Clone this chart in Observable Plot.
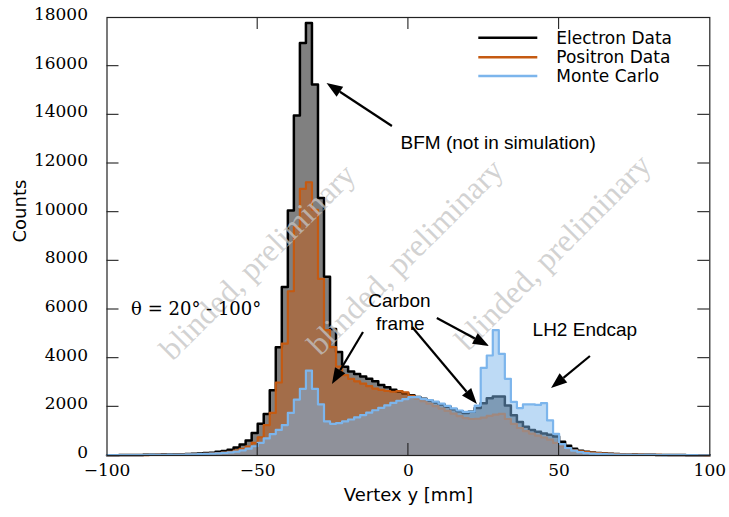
<!DOCTYPE html>
<html><head><meta charset="utf-8">
<script src="https://cdn.jsdelivr.net/npm/d3@7"></script>
<script src="https://cdn.jsdelivr.net/npm/@observablehq/plot@0.6"></script>
<style>body{margin:0;background:#fff}</style>
</head><body><div id="chart"></div>
<script>
// ---- data ----
const binStart = d3.range(-100, 100, 2); // 2 mm bins
const binEnd = 100;
const electron = [15,15,18,20,22,25,28,30,34,38, 42,48,55,62,72,84,98,115,150,185, 240,330,450,620,920,1300,1710,2680,4450,6920, 10070,13970,16950,17770,15250,10580,7350,5200,4250,3650, 3450,3350,3250,3150,3050,2900,2800,2700,2620,2550, 2480,2400,2330,2260,2180,2100,2000,1900,1820,1750, 1800,1950,2150,2350,2420,2420,2050,1650,1380,1180, 1050,980,900,850,780,560,400,280,200,150, 120,100,85,70,60,50,45,40,35,30, 28,25,22,20,18,16,15,14,12,10];
const positron = [10,11,12,14,15,17,19,21,24,27, 30,34,39,45,52,60,70,82,98,120, 150,200,270,370,520,750,1250,1750,3000,4600, 6750,9400,10960,11230,10100,7260,5150,4450,3650,3300, 3150,3050,2950,2850,2750,2700,2650,2620,2650,2600, 2450,2330,2230,2130,2030,1930,1830,1720,1620,1540, 1500,1510,1560,1630,1680,1710,1500,1300,1130,1000, 900,820,740,650,520,380,280,210,170,140, 115,95,80,68,58,50,44,38,33,29, 26,23,20,18,16,14,13,12,10,9];
const monteCarlo = [12,13,14,15,17,19,21,23,26,29, 32,36,40,45,51,58,66,76,88,105, 128,160,210,280,380,520,700,880,1050,1250, 1750,2300,2740,3490,2740,2100,1400,1300,1330,1400, 1480,1570,1660,1760,1860,1960,2060,2160,2250,2320, 2400,2400,2330,2280,2210,2130,2040,1940,1850,1790, 1800,2050,3600,4110,5150,4180,3150,2200,1950,2100, 2100,2080,2150,1440,890,470,300,200,140,100, 80,65,55,48,42,38,34,30,27,24, 22,20,18,16,15,14,13,12,11,10];
const seriesNames = ["Electron Data", "Positron Data", "Monte Carlo"];
const seriesColors = ["#000000", "#c55a11", "#7cb5ec"];
const xTicks = [-100, -50, 0, 50, 100];
const yTicks = [0, 2000, 4000, 6000, 8000, 10000, 12000, 14000, 16000, 18000];
const watermarkText = "blinded, preliminary";
const watermarkX = [-50, -1, 48];
const watermarkY = [7950, 8150, 8350];
// annotation labels (data coordinates)
const startLabels = [
  {text: "BFM (not in simulation)", x: -2.6, y: 12860},
  {text: "LH2 Endcap", x: 41.2, y: 5180}
];
const middleLabels = [
  {text: "Carbon", x: -3, y: 6370},
  {text: "frame", x: -2.7, y: 5390}
];
const arrows = [
  {x1: -5.3, y1: 13520, x2: -27.0, y2: 15290},
  {x1: -14.9, y1: 5055, x2: -25.2, y2: 2918},
  {x1: 1.4, y1: 5260, x2: 22.9, y2: 2096},
  {x1: 9.6, y1: 5630, x2: 26.9, y2: 4479},
  {x1: 60.4, y1: 4068, x2: 47.5, y2: 2753}
];

// ---- helpers ----
function steps(values) {
  const pts = binStart.map((x, i) => ({x, y: values[i]}));
  pts.push({x: binEnd, y: values[values.length - 1]});
  return pts;
}
const eS = steps(electron), pS = steps(positron), mS = steps(monteCarlo);

const W = 729, H = 517, mL = 106.5, mR = 19.7, mT = 17, mB = 62;
const fbX = d3.scaleLinear([-100, 100], [mL, W - mR]);
const fbY = d3.scaleLinear([0, 18000], [H - mB, mT]);

function custom(draw) {
  return (index, scales, values, dims) => {
    const g = d3.create("svg:g");
    const sx = (scales && scales.x) || fbX;
    const sy = (scales && scales.y) || fbY;
    draw(g, sx, sy, dims || {width: W, height: H, marginLeft: mL, marginRight: mR, marginTop: mT, marginBottom: mB});
    return g.node();
  };
}

const tickMarks = custom((g, sx, sy, d) => {
  const L = d.marginLeft, R = d.width - d.marginRight, T = d.marginTop, B = d.height - d.marginBottom;
  const t = 12;
  yTicks.slice(1, -1).forEach(v => {
    const y = sy(v);
    g.append("line").attr("x1", L).attr("x2", L + t).attr("y1", y).attr("y2", y);
    g.append("line").attr("x1", R - t).attr("x2", R).attr("y1", y).attr("y2", y);
  });
  xTicks.slice(1, -1).forEach(v => {
    const x = sx(v);
    g.append("line").attr("x1", x).attr("x2", x).attr("y1", B).attr("y2", B - t);
    g.append("line").attr("x1", x).attr("x2", x).attr("y1", T).attr("y2", T + t);
  });
  g.attr("stroke", "#222").attr("stroke-width", 1.1);
});

const arrowMark = custom((g, sx, sy) => {
  arrows.forEach(a => {
    const x1 = sx(a.x1), y1 = sy(a.y1), x2 = sx(a.x2), y2 = sy(a.y2);
    const ang = Math.atan2(y2 - y1, x2 - x1);
    const hl = 16, hw = 6;
    const bx = x2 - hl * Math.cos(ang), by = y2 - hl * Math.sin(ang);
    g.append("line").attr("x1", x1).attr("y1", y1).attr("x2", bx).attr("y2", by)
      .attr("stroke", "#000").attr("stroke-width", 2.2);
    const px = -Math.sin(ang) * hw, py = Math.cos(ang) * hw;
    g.append("path").attr("d", `M${x2},${y2}L${bx + px},${by + py}L${bx - px},${by - py}Z`).attr("fill", "#000");
  });
});

const legendMark = custom((g, sx, sy, d) => {
  const R = d.width - d.marginRight, T = d.marginTop;
  const rows = [20.7, 40.3, 59];
  seriesNames.forEach((name, i) => {
    const y = T + rows[i];
    g.append("line").attr("x1", R - 231).attr("x2", R - 172).attr("y1", y).attr("y2", y)
      .attr("stroke", seriesColors[i]).attr("stroke-width", 2.6);
    g.append("text").attr("x", R - 153).attr("y", y).attr("dy", "0.36em")
      .attr("text-anchor", "start")
      .attr("font-family", "DejaVu Sans").attr("font-size", 17).attr("fill", "#000").text(name);
  });
});

const chart = Plot.plot({
  width: W, height: H,
  marginLeft: mL, marginRight: mR, marginTop: mT, marginBottom: mB,
  style: {background: "#fff", fontFamily: "DejaVu Serif", fontSize: "17px", color: "#000"},
  x: {domain: [-100, 100], ticks: xTicks},
  y: {domain: [0, 18000], ticks: yTicks},
  marks: [
    Plot.areaY(eS, {x: "x", y: "y", curve: "step-after", fill: "#808080"}),
    Plot.lineY(eS, {x: "x", y: "y", curve: "step-after", stroke: seriesColors[0], strokeWidth: 2.5}),
    Plot.areaY(pS, {x: "x", y: "y", curve: "step-after", fill: seriesColors[1], fillOpacity: 0.5}),
    Plot.lineY(pS, {x: "x", y: "y", curve: "step-after", stroke: seriesColors[1], strokeWidth: 2.2}),
    Plot.areaY(mS, {x: "x", y: "y", curve: "step-after", fill: seriesColors[2], fillOpacity: 0.5}),
    Plot.lineY(mS, {x: "x", y: "y", curve: "step-after", stroke: seriesColors[2], strokeWidth: 2.2}),
    Plot.text(watermarkX.map((x, i) => ({x, y: watermarkY[i]})), {
      x: "x", y: "y", text: () => watermarkText, rotate: -45,
      fontFamily: "Liberation Serif", fontSize: 32, fill: "#c4c4c4", fillOpacity: 0.75
    }),
    Plot.frame({stroke: "#222", strokeWidth: 1.2}),
    tickMarks,
    Plot.axisX({ticks: xTicks, tickSize: 0, tickPadding: 8, label: null, fontFamily: "DejaVu Serif", fontSize: 17}),
    Plot.axisY({ticks: yTicks, tickSize: 0, tickPadding: 19, dy: -3, label: null, tickFormat: d => String(d), fontFamily: "DejaVu Serif", fontSize: 17}),
    Plot.text(["Vertex y [mm]"], {frameAnchor: "bottom", dy: 45, text: d => d, fontFamily: "DejaVu Sans", fontSize: 18}),
    Plot.text(["Counts"], {frameAnchor: "left", rotate: -90, dx: -87, dy: 6, text: d => d, fontFamily: "DejaVu Sans", fontSize: 18}),
    Plot.text(["θ = 20° - 100°"], {x: () => -92, y: () => 6000, text: d => d, textAnchor: "start", fontFamily: "DejaVu Serif", fontSize: 18}),
    Plot.text(startLabels, {x: "x", y: "y", text: "text", textAnchor: "start", fontFamily: "Liberation Sans", fontSize: 19}),
    Plot.text(middleLabels, {x: "x", y: "y", text: "text", textAnchor: "middle", fontFamily: "Liberation Sans", fontSize: 19}),
    arrowMark,
    legendMark
  ]
});
document.getElementById("chart").appendChild(chart);
</script>
</body></html>
